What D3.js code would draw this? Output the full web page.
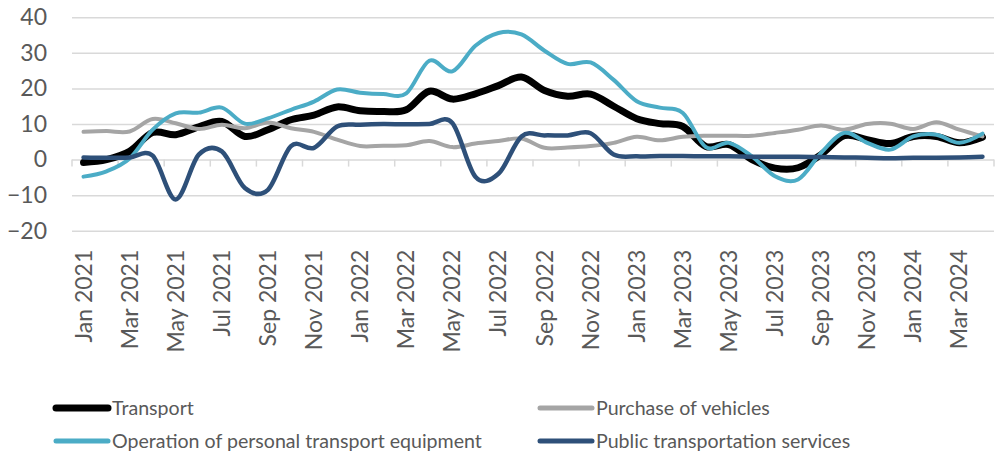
<!DOCTYPE html>
<html>
<head>
<meta charset="utf-8">
<script src="https://cdn.jsdelivr.net/npm/d3@7"></script>
<style>
  html, body { margin: 0; padding: 0; background: #fff; }
  svg text { font-family: Lato, "Open Sans", sans-serif; fill: #595959; }
</style>
</head>
<body>
<div id="chart"></div>
<script>
// categories (monthly)
var months = [
  "Jan 2021", "Feb 2021", "Mar 2021", "Apr 2021", "May 2021", "Jun 2021",
  "Jul 2021", "Aug 2021", "Sep 2021", "Oct 2021", "Nov 2021", "Dec 2021",
  "Jan 2022", "Feb 2022", "Mar 2022", "Apr 2022", "May 2022", "Jun 2022",
  "Jul 2022", "Aug 2022", "Sep 2022", "Oct 2022", "Nov 2022", "Dec 2022",
  "Jan 2023", "Feb 2023", "Mar 2023", "Apr 2023", "May 2023", "Jun 2023",
  "Jul 2023", "Aug 2023", "Sep 2023", "Oct 2023", "Nov 2023", "Dec 2023",
  "Jan 2024", "Feb 2024", "Mar 2024", "Apr 2024"
];

var yTicks = [-20, -10, 0, 10, 20, 30, 40];

// series values
var transport = [
  -0.8, 0, 2.3, 7.6, 7, 9.2, 10.7, 6.5, 8.4, 11.2, 12.5, 14.8,
  13.7, 13.5, 14, 19.2, 17, 18.5, 20.8, 23.2, 19.4, 17.8, 18.4, 15,
  11.5, 10.1, 9.3, 3.7, 4.2, 0, -2.4, -2.3, 1.4, 6.7, 5.6, 4.5,
  6.5, 6.5, 4.7, 6.3
];
var purchase = [
  7.8, 8, 7.9, 11.4, 10.2, 8.6, 9.8, 8.8, 10.4, 8.8, 7.8, 5.6,
  3.8, 3.9, 4, 5.2, 3.5, 4.5, 5.2, 5.9, 3.3, 3.4, 3.8, 4.7,
  6.4, 5.4, 6.4, 6.7, 6.7, 6.7, 7.5, 8.4, 9.6, 8.4, 10, 10.1,
  8.6, 10.5, 8.4, 6.5
];
var operation = [
  -4.8, -3.3, 0.3, 8.4, 13, 13.2, 14.6, 10.1, 11.6, 14, 16.3, 19.7,
  18.8, 18.4, 18.6, 27.8, 24.8, 32, 35.6, 35.2, 30.6, 26.9, 27.3, 22.4,
  16.4, 14.6, 13.1, 3.5, 4.7, 0.9, -4.7, -5.6, 1.9, 7.5, 4.7, 2.8,
  6.5, 7, 4.7, 7.3
];
var publicTransport = [
  0.6, 0.5, 0.6, 1.1, -11.2, 1.4, 2.3, -8, -8.5, 3.8, 3.3, 9.3,
  9.8, 10, 9.9, 10, 10.3, -4.8, -4, 6.5, 6.8, 6.8, 7.4, 1.4,
  0.9, 1, 1, 0.9, 0.9, 0.8, 0.8, 0.8, 0.7, 0.6, 0.5, 0.4,
  0.5, 0.5, 0.6, 0.8
];

var seriesNames = ["Transport", "Purchase of vehicles",
  "Operation of personal transport equipment", "Public transportation services"];
var seriesColors = ["#000000", "#a5a5a5", "#4bacc6", "#2e5079"];
var seriesWidths = [7, 4, 4, 4.5];

var series = [transport, purchase, operation, publicTransport].map(function (vals, i) {
  return { name: seriesNames[i], color: seriesColors[i], width: seriesWidths[i], values: vals };
});

var width = 995, height = 454;
var margin = { left: 72, right: 994, top: 17.3, bottom: 230.7 };

var svg = d3.select("#chart").append("svg")
  .attr("width", width).attr("height", height);

var x = d3.scalePoint().domain(months).range([margin.left, margin.right]).padding(0.5);
var y = d3.scaleLinear().domain([-20, 40]).range([margin.bottom, margin.top]);
var step = x.step();

// gridlines + y labels
var yAxis = svg.append("g")
  .attr("transform", "translate(" + margin.left + ",0)")
  .call(d3.axisLeft(y).tickValues(yTicks).tickSize(-(margin.right - margin.left)).tickPadding(25).tickFormat(d3.format("d")));
yAxis.select(".domain").remove();
yAxis.selectAll(".tick line").attr("stroke", "#d9d9d9").attr("stroke-width", 1.5);
yAxis.selectAll(".tick text")
  .attr("font-size", "23px").attr("fill", "#595959")
  .style("font-family", "Lato, 'Open Sans', sans-serif");

// tick marks on the zero line, every two months
var tickPos = d3.range(0, months.length + 1, 2).map(function (k) { return margin.left + k * step; });
svg.append("g").selectAll("line")
  .data(tickPos).enter().append("line")
  .attr("x1", function (d) { return d; }).attr("x2", function (d) { return d; })
  .attr("y1", y(0)).attr("y2", y(0) + 7)
  .attr("stroke", "#d9d9d9").attr("stroke-width", 1.5);

// x labels, rotated, below the plot
var labelMonths = months.filter(function (d, i) { return i % 2 === 0; });
svg.append("g").selectAll("text")
  .data(labelMonths).enter().append("text")
  .attr("transform", function (d) { return "translate(" + (x(d) + 8) + "," + (margin.bottom + 19) + ") rotate(-90)"; })
  .attr("text-anchor", "end")
  .attr("font-size", "23px")
  .text(function (d) { return d; });

// lines
var line = d3.line()
  .x(function (d, i) { return x(months[i]); })
  .y(function (d) { return y(d); })
  .curve(d3.curveCardinal.tension(0));

svg.append("g").selectAll("path")
  .data(series).enter().append("path")
  .attr("d", function (d) { return line(d.values); })
  .attr("fill", "none")
  .attr("stroke", function (d) { return d.color; })
  .attr("stroke-width", function (d) { return d.width; })
  .attr("stroke-linecap", "round")
  .attr("stroke-linejoin", "round");

// legend, two columns
var legendPos = [[54, 408], [538, 408], [54, 441], [538, 441]];
var legend = svg.append("g").selectAll("g")
  .data(series).enter().append("g")
  .attr("transform", function (d, i) { return "translate(" + legendPos[i][0] + "," + legendPos[i][1] + ")"; });

legend.append("line")
  .attr("x1", 2).attr("x2", 54).attr("y1", 0).attr("y2", 0)
  .attr("stroke", function (d) { return d.color; })
  .attr("stroke-width", function (d, i) { return i === 0 ? 7 : 5; })
  .attr("stroke-linecap", "round");

legend.append("text")
  .attr("x", 58).attr("y", 0).attr("dy", "0.35em")
  .attr("font-size", "19.6px")
  .text(function (d) { return d.name; });
</script>
</body>
</html>
